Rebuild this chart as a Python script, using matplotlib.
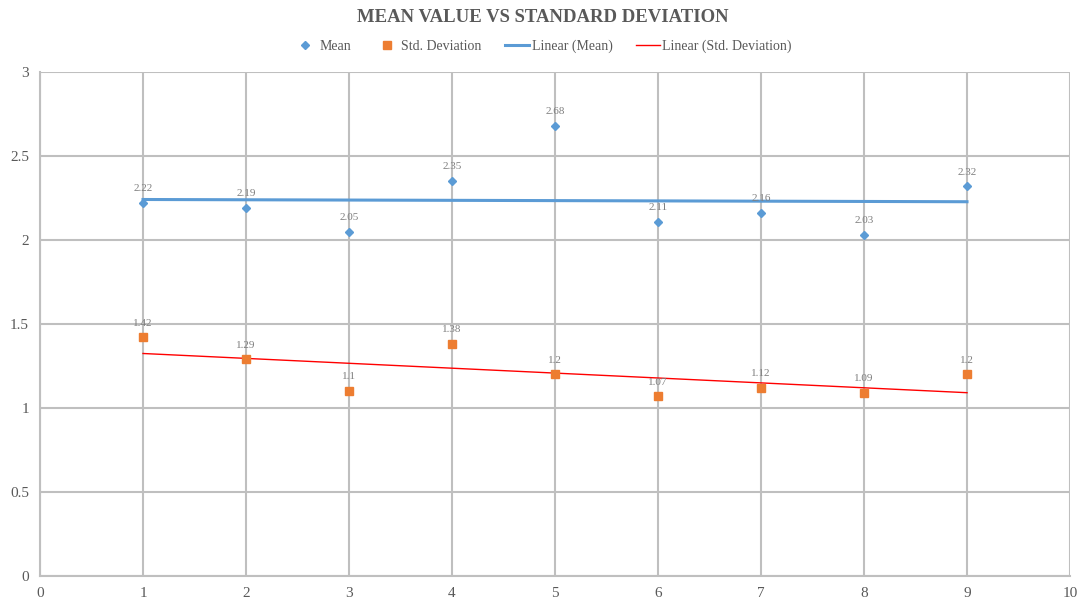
import matplotlib
matplotlib.use("Agg")
import matplotlib.pyplot as plt
import numpy as np

x = [1, 2, 3, 4, 5, 6, 7, 8, 9]
mean_vals = [2.22, 2.19, 2.05, 2.35, 2.68, 2.11, 2.16, 2.03, 2.32]
std_vals = [1.42, 1.29, 1.1, 1.38, 1.2, 1.07, 1.12, 1.09, 1.2]
x_ticks = list(range(0, 11))
y_ticks = [0, 0.5, 1, 1.5, 2, 2.5, 3]

plt.rcParams['font.family'] = ['Liberation Serif', 'DejaVu Serif']

fig = plt.figure(figsize=(10.85, 6.01), dpi=100)
ax = fig.add_axes([40/1085, 25/601, 1030/1085, 504/601])

blue = '#5b9bd5'
orange = '#ed7d31'
txt = '#595959'

xa = np.array(x, dtype=float)
pm = np.polyfit(xa, mean_vals, 1)
ps = np.polyfit(xa, std_vals, 1)
xl = np.array([xa.min(), xa.max()])

ax.plot(x, mean_vals, linestyle='none', marker='D', markersize=4.5, color=blue, label='Mean', zorder=4)
ax.plot(x, std_vals, linestyle='none', marker='s', markersize=6, color=orange, label='Std. Deviation', zorder=4)
ax.plot(xl, np.polyval(pm, xl), color=blue, linewidth=2.2, label='Linear (Mean)', zorder=3)
ax.plot(xl, np.polyval(ps, xl), color='red', linewidth=1, label='Linear (Std. Deviation)', zorder=3)

for xi, v in zip(x, mean_vals):
    ax.annotate(f'{v:g}', (xi, v), xytext=(0, 7), textcoords='offset points',
                ha='center', va='bottom', fontsize=8, color='#7f7f7f')
for xi, v in zip(x, std_vals):
    ax.annotate(f'{v:g}', (xi, v), xytext=(0, 7), textcoords='offset points',
                ha='center', va='bottom', fontsize=8, color='#7f7f7f')

ax.set_xlim(0, 10)
ax.set_ylim(0, 3)
ax.set_xticks(x_ticks)
ax.set_yticks(y_ticks)
ax.set_xticklabels([f'{t:g}' for t in x_ticks])
ax.set_yticklabels([f'{t:g}' for t in y_ticks])
ax.grid(True, color='#bfbfbf', linewidth=1.5)
ax.set_axisbelow(True)
for s in ['top', 'right']:
    ax.spines[s].set_visible(False)
for s in ['left', 'bottom']:
    ax.spines[s].set_color('#bfbfbf')
    ax.spines[s].set_linewidth(1.5)
ax.tick_params(length=0, labelsize=11, colors=txt, pad=8)

fig.text(0.5, 1 - 17/601, 'MEAN VALUE VS STANDARD DEVIATION', ha='center', va='center',
         fontsize=13.5, fontweight='bold', color=txt)
leg = fig.legend(loc='center', bbox_to_anchor=(0.5, 1 - 46/601), ncol=4, frameon=False,
                 fontsize=10, handlelength=1.7, columnspacing=1.7, handletextpad=0.2)
for t in leg.get_texts():
    t.set_color(txt)

fig.savefig('out.png', dpi=100)
